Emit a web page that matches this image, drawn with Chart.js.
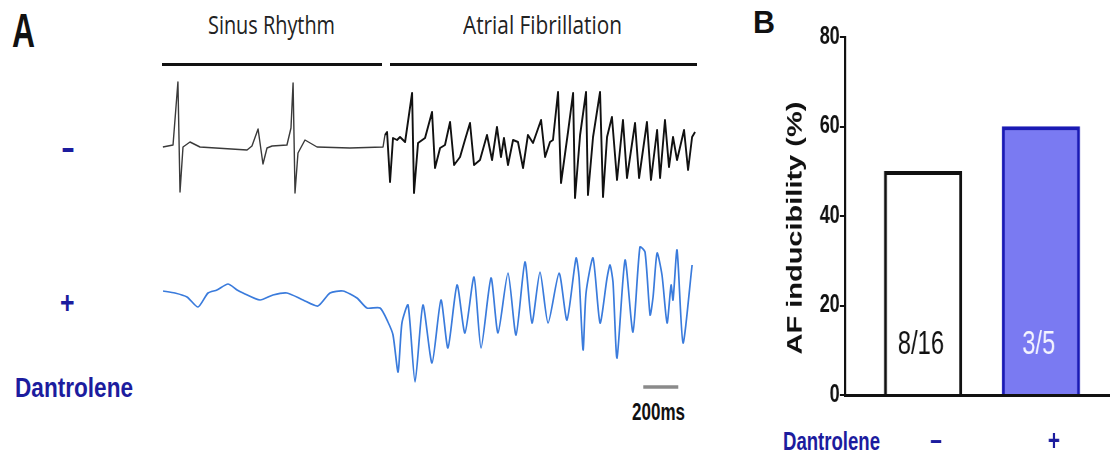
<!DOCTYPE html>
<html>
<head>
<meta charset="utf-8">
<script src="https://cdn.jsdelivr.net/npm/chart.js@4.4.1/dist/chart.umd.min.js"></script>
<style>
  html, body { margin: 0; padding: 0; background: #fff; }
  #page { position: relative; width: 1110px; height: 452px; overflow: hidden; }
  .t { position: absolute; white-space: nowrap; line-height: 1; transform-origin: 0 0; display: inline-block; }
  .bold { font-family: "Liberation Sans", Arial, sans-serif; font-weight: bold; }
  .light { font-family: "Open Sans", sans-serif; font-weight: 400; color: #222; }
  .navy { color: #1c1c9e; }
  .rule { position: absolute; height: 3px; background: #111; }
  canvas { display: block; }
</style>
</head>
<body>
<div id="page">
  <!-- panel A -->
  <div class="t bold" data-w="23" style="left:12px;top:6px;font-size:49px;color:#111">A</div>
  <div class="t light" data-w="127" style="left:208px;top:12px;font-size:25px">Sinus Rhythm</div>
  <div class="t light" data-w="159" style="left:463px;top:12px;font-size:25px">Atrial Fibrillation</div>
  <div class="rule" style="left:162px;top:63px;width:220px"></div>
  <div class="rule" style="left:390px;top:63px;width:307px"></div>
  <div class="t bold navy" data-w="12" style="left:62px;top:127px;font-size:40px">–</div>
  <div class="t bold navy" data-w="14.5" style="left:60px;top:287px;font-size:31px">+</div>
  <div class="t bold navy" data-w="118" style="left:15px;top:374px;font-size:28px">Dantrolene</div>
  <div class="t bold" data-w="53" style="left:632px;top:400px;font-size:24px;color:#111">200ms</div>

  <div style="position:absolute;left:162px;top:70px"><canvas id="traceCtrl" width="535" height="140"></canvas></div>
  <div style="position:absolute;left:162px;top:230px"><canvas id="traceDan" width="535" height="165"></canvas></div>

  <!-- panel B -->
  <div class="t bold" data-w="22" style="left:753px;top:6px;font-size:32px;color:#111">B</div>
  <div class="t bold navy" data-w="97" style="left:783px;top:429px;font-size:25px">Dantrolene</div>
  <div style="position:absolute;left:780px;top:0;transform:scaleX(0.72);transform-origin:0 0">
    <canvas id="barB" width="459" height="452"></canvas>
  </div>
</div>

<script>
// trazos de ECG (tiempo en ms, amplitud en mV)
const ctrlTimeMs = [5, 63, 91, 103, 120, 160, 217, 486, 514, 549, 577, 600, 629, 714, 737, 749, 760, 777, 817, 886,
  1074, 1263, 1274, 1286, 1303, 1320, 1343, 1360, 1389, 1429, 1440, 1463, 1503, 1543, 1560, 1589, 1617, 1646, 1669,
  1703, 1731, 1760, 1783, 1817, 1857, 1886, 1914, 1937, 1954, 1977, 2006, 2034, 2063, 2091, 2120, 2166, 2189, 2217,
  2234, 2263, 2280, 2320, 2349, 2360, 2389, 2423, 2434, 2463, 2503, 2520, 2543, 2571, 2600, 2634, 2657, 2703, 2726,
  2771, 2794, 2829, 2846, 2874, 2897, 2920, 2943, 2983, 3006, 3029, 3046];
const ctrlMv = [0, 0.04, 1.30, -0.90, 0, 0.10, 0, -0.06, 0.02, 0.36, -0.34, -0.02, 0.02, 0.04, 0.38, 1.28, -0.92, -0.12, 0.14, 0,
  -0.02, 0, 0.24, 0.30, -0.70, 0.18, 0.14, 0.20, 0.10, 1.08, -0.92, 0.08, 0.18, 0.70, -0.42, -0.02, 0.04, 0.50, -0.36,
  -0.20, 0.14, 0.48, -0.36, -0.26, 0.24, -0.26, 0.40, -0.20, 0.18, -0.36, 0.14, 0.10, -0.42, 0.24, 0.08, 0.54, -0.20, 0.10,
  0.14, 1.10, -0.72, 0.30, 1.08, -1.02, 0.24, 1.10, -0.96, 0.20, 1.10, -1.00, 0.20, 0.60, -0.66, 0.54, -0.62, 0.48, -0.62,
  0.50, -0.66, 0.34, -0.62, 0.54, -0.40, 0.20, -0.26, 0.34, -0.46, 0.20, 0.30];
const ctrlAfStartMs = 1270;

const danTimeMs = [6, 74, 143, 206, 263, 314, 377, 429, 463, 560, 634, 714, 806, 891, 960, 1034, 1114, 1171, 1246, 1291,
  1320, 1349, 1371, 1406, 1446, 1491, 1543, 1594, 1634, 1686, 1731, 1783, 1823, 1880, 1920, 1977, 2023, 2074, 2114,
  2160, 2206, 2269, 2314, 2366, 2383, 2406, 2423, 2463, 2503, 2543, 2560, 2577, 2600, 2646, 2691, 2731, 2760, 2789,
  2806, 2829, 2857, 2886, 2909, 2920, 2943, 2977, 3029];
const danMv = [0.02, -0.02, -0.10, -0.30, -0.02, 0.04, 0.16, 0.04, -0.02, -0.16, -0.06, -0.02, -0.16, -0.28, -0.02, 0.02, -0.12, -0.32, -0.32, -0.60,
  -0.86, -1.60, -0.62, -0.26, -1.80, -0.26, -1.42, -0.16, -1.12, 0.14, -0.82, 0.30, -1.12, 0.28, -0.82, 0.38, -0.86, 0.60, -0.62,
  0.40, -0.62, 0.38, -0.56, 0.68, 0.30, -1.16, -0.02, 0.68, -0.62, 0.28, 0.54, 0.20, -1.32, 0.64, -0.80, 0.90, 0.80, -0.46,
  -0.10, 0.78, 0.34, -0.62, 0.14, -0.16, 0.84, -1.02, 0.54];

// barra de escala de 200 ms
const scaleBarMs = [2750, 2950];
const scaleBarMv = -1.9;

// panel B
const barCategories = ['–', '+'];
const barValues = [50, 60];
const barCounts = ['8/16', '3/5'];
const yTickValues = [0, 20, 40, 60, 80];

// ajusta el ancho de los textos a los de la figura
document.querySelectorAll('.t').forEach(el => {
  const w = el.getBoundingClientRect().width;
  el.style.transform = 'scaleX(' + (parseFloat(el.dataset.w) / w) + ')';
});

function toPoints(ts, vs) {
  return ts.map((t, i) => ({ x: t, y: vs[i] }));
}

function traceOptions(yMin, yMax) {
  return {
    responsive: false,
    animation: false,
    layout: { padding: 0 },
    plugins: { legend: { display: false }, tooltip: { enabled: false } },
    elements: { point: { radius: 0 }, line: { tension: 0 } },
    scales: {
      x: { type: 'linear', display: false, min: 0, max: 3057 },
      y: { display: false, min: yMin, max: yMax }
    }
  };
}

// trazo sin dantroleno
new Chart(document.getElementById('traceCtrl'), {
  type: 'line',
  data: {
    datasets: [{
      data: toPoints(ctrlTimeMs, ctrlMv),
      borderColor: '#111',
      borderWidth: 1.8,
      borderJoinStyle: 'round',
      segment: {
        borderColor: c => c.p0.parsed.x < ctrlAfStartMs ? '#3a3a3a' : '#111',
        borderWidth: c => c.p0.parsed.x < ctrlAfStartMs ? 1.4 : 1.9
      }
    }]
  },
  options: traceOptions(-1.26, 1.54)
});

// trazo con dantroleno
new Chart(document.getElementById('traceDan'), {
  type: 'line',
  data: {
    datasets: [{
      data: toPoints(danTimeMs, danMv),
      borderColor: '#3a7bdc',
      borderWidth: 1.7,
      borderJoinStyle: 'round',
      tension: 0.22
    }, {
      data: scaleBarMs.map(t => ({ x: t, y: scaleBarMv })),
      borderColor: '#8a8a8a',
      borderWidth: 3.5
    }]
  },
  options: traceOptions(-2.06, 1.24)
});

// etiquetas n/N dentro de las barras
const countLabels = {
  id: 'countLabels',
  afterDatasetsDraw(chart) {
    const ctx = chart.ctx;
    const meta = chart.getDatasetMeta(0);
    const y0 = chart.scales.y.getPixelForValue(0);
    const colors = ['#111', '#f4f4ff'];
    ctx.save();
    ctx.font = '33px "Liberation Sans", Arial, sans-serif';
    ctx.textAlign = 'center';
    ctx.textBaseline = 'middle';
    meta.data.forEach((bar, i) => {
      ctx.fillStyle = colors[i];
      ctx.fillText(barCounts[i], bar.x - 3, y0 - 50);
    });
    ctx.restore();
  }
};

new Chart(document.getElementById('barB'), {
  type: 'bar',
  data: {
    datasets: [{
      data: barValues.map((v, i) => ({ x: i + 1, y: v })),
      backgroundColor: ['#ffffff', '#7a7af2'],
      borderColor: ['#111111', '#1a1ab4'],
      borderWidth: 4,
      barThickness: 108
    }]
  },
  options: {
    responsive: false,
    animation: false,
    layout: { padding: { top: 37, left: 0, right: 0, bottom: 0 } },
    plugins: { legend: { display: false }, tooltip: { enabled: false } },
    scales: {
      x: {
        type: 'linear',
        offset: false,
        bounds: 'data',
        min: 0.336,
        max: 2.59,
        afterBuildTicks: s => { s.ticks = barCategories.map((c, i) => ({ value: i + 1 })); },
        afterFit: s => { s.height = 57; },
        grid: { display: false, offset: false },
        border: { display: true, color: '#111', width: 3 },
        ticks: {
          callback: (v) => barCategories[v - 1],
          color: '#1c1c9e',
          font: { family: '"Liberation Sans", Arial, sans-serif', size: 29, weight: 'bold' },
          padding: 22,
          labelOffset: 18,
          maxRotation: 0
        }
      },
      y: {
        min: 0,
        max: 80,
        afterBuildTicks: s => { s.ticks = yTickValues.map(v => ({ value: v })); },
        afterFit: s => { s.width = 90; },
        grid: { drawOnChartArea: false, drawTicks: true, tickLength: 7, color: '#111', lineWidth: 2 },
        border: { display: true, color: '#111', width: 3 },
        ticks: {
          color: '#111',
          padding: 0,
          font: { family: '"Liberation Sans", Arial, sans-serif', size: 25, weight: 'bold' }
        },
        title: {
          display: true,
          text: 'AF inducibility (%)\u00a0\u00a0\u00a0',
          color: '#111',
          padding: { top: 5, bottom: 0 },
          font: { family: '"Liberation Sans", Arial, sans-serif', size: 29, weight: 'bold' }
        }
      }
    }
  },
  plugins: [countLabels]
});
</script>
</body>
</html>
